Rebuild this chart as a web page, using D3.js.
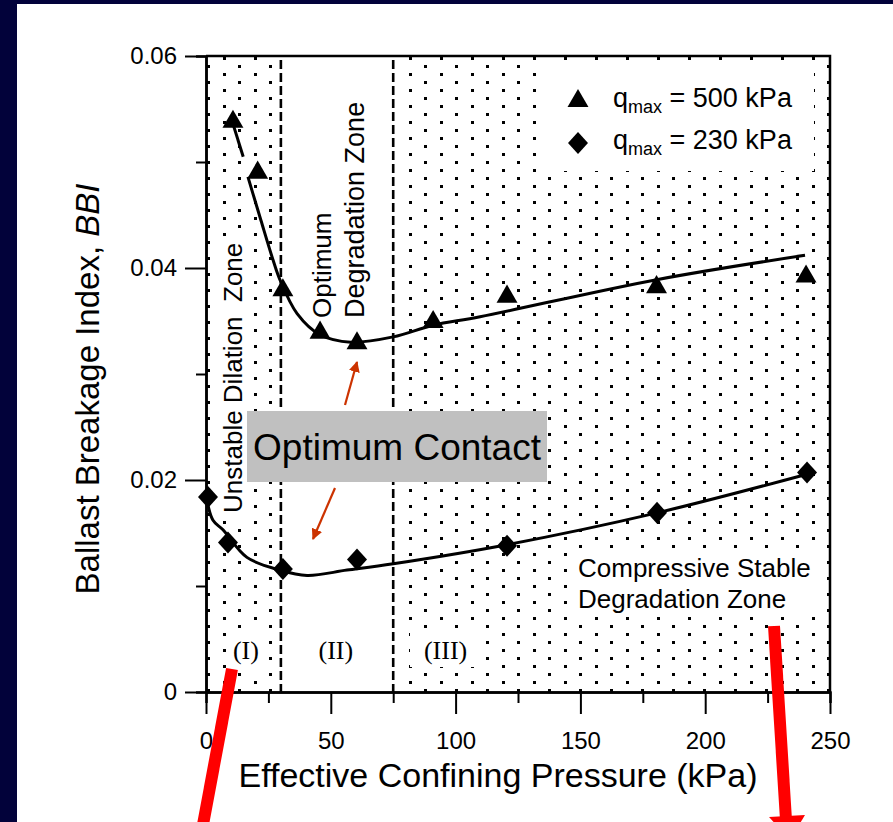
<!DOCTYPE html>
<html>
<head>
<meta charset="utf-8">
<title>Ballast Breakage Index</title>
<script src="https://d3js.org/d3.v7.min.js"></script>
<style>
  body { margin: 0; background: #02023a; }
  text { font-family: "Liberation Sans", Arial, sans-serif; }
</style>
</head>
<body>
<script>
  // measured points, q_max = 500 kPa (triangles)
  var pts500 = [[10.8,0.0538],[20.7,0.0490],[30.8,0.0379],[45.7,0.0339],[60.5,0.0329],
                [91,0.0349],[120.6,0.0373],[180.5,0.0382],[240.4,0.0392]];
  // measured points, q_max = 230 kPa (diamonds)
  var pts230 = [[0.8,0.0184],[8.8,0.0141],[30.8,0.0116],[60.5,0.0125],
                [120.6,0.0138],[180.7,0.0169],[240.8,0.0207]];
  // hand-drawn trend lines
  var fit500a = [[10.8,0.0536],[14.9,0.0505]];
  var fit500b = [[16.8,0.0486],[22,0.0445],[26.8,0.0408],[29.6,0.0389],[36.5,0.0357],
                 [45.7,0.0337],[58,0.0330],[75,0.0335],[91,0.0346],[109.8,0.0354],
                 [180.5,0.0389],[240,0.0412]];
  var fit230 = [[0.3,0.0182],[2.8,0.0162],[6.8,0.0153],[16.4,0.0127],[29.6,0.0115],
                [40.5,0.0110],[56.5,0.0115],[75,0.0121],[120.6,0.0139],[180.7,0.0169],[240,0.0205]];
  var yMajor = [0, 0.02, 0.04, 0.06];
  var yMinor = [0.01, 0.03, 0.05];
  var xMajor = [0, 50, 100, 150, 200, 250];
  var xMinor = [25, 75, 125, 175, 225];
  var zoneBounds = [30, 75];
  var zoneLabels = [["(I)", 16], ["(II)", 52], ["(III)", 96]];

  var W = 893, H = 822;
  var svg = d3.select("body").append("svg").attr("width", W).attr("height", H);

  var xScale = d3.scaleLinear().domain([0, 250]).range([206, 830]);
  var yScale = d3.scaleLinear().domain([0, 0.06]).range([692, 56]);

  // navy slide background + white panel
  svg.append("rect").attr("width", W).attr("height", H).attr("fill", "#02023a");
  svg.append("rect").attr("x", 17).attr("y", 4).attr("width", W - 17).attr("height", H - 4).attr("fill", "#fff");

  // dot hatching (staggered 3px squares, 31px apart within a row, rows 8px apart)
  var defs = svg.append("defs");
  var pat = defs.append("pattern").attr("id", "dots").attr("patternUnits", "userSpaceOnUse")
      .attr("x", 207).attr("y", 57).attr("width", 31).attr("height", 16);
  [[16, 0], [0, 8]].forEach(function (p) {
    pat.append("rect").attr("x", p[0]).attr("y", p[1]).attr("width", 3).attr("height", 3)
      .attr("fill", "#000").attr("shape-rendering", "crispEdges");
  });
  defs.append("clipPath").attr("id", "plotclip").append("rect")
      .attr("x", xScale(0)).attr("y", yScale(0.06))
      .attr("width", xScale(250) - xScale(0)).attr("height", yScale(0) - yScale(0.06));

  var plot = svg.append("g").attr("clip-path", "url(#plotclip)");
  plot.append("rect").attr("x", xScale(0)).attr("y", yScale(0.06))
      .attr("width", xScale(250) - xScale(0)).attr("height", yScale(0) - yScale(0.06))
      .attr("fill", "url(#dots)");
  // zone II is clear
  plot.append("rect").attr("x", xScale(zoneBounds[0]) + 1).attr("y", yScale(0.06))
      .attr("width", xScale(zoneBounds[1]) - xScale(zoneBounds[0]) + 6).attr("height", yScale(0) - yScale(0.06))
      .attr("fill", "#fff");
  // white boxes behind labels
  var boxes = [[540, 62, 274, 109], [570, 550, 251, 63], [218, 238, 28, 278], [228, 632, 35, 36], [410, 630, 66, 37]];
  plot.selectAll("rect.bg").data(boxes).enter().append("rect").attr("class", "bg")
      .attr("x", d => d[0]).attr("y", d => d[1]).attr("width", d => d[2]).attr("height", d => d[3])
      .attr("fill", "#fff");

  // zone dividers
  svg.selectAll("line.zone").data(zoneBounds).enter().append("line").attr("class", "zone")
      .attr("x1", d => xScale(d)).attr("x2", d => xScale(d))
      .attr("y1", yScale(0.06) + 4).attr("y2", yScale(0))
      .attr("stroke", "#000").attr("stroke-width", 2.6).attr("stroke-dasharray", "9,4");

  // frame
  svg.append("path")
      .attr("d", "M" + xScale(0) + "," + yScale(0.06) + "H" + xScale(250) + "V" + yScale(0))
      .attr("fill", "none").attr("stroke", "#000").attr("stroke-width", 2.5);

  // axes
  function styleAxis(g) {
    g.selectAll("path.domain").attr("stroke", "#000").attr("stroke-width", 2.5);
    g.selectAll(".tick line").attr("stroke", "#000").attr("stroke-width", 2);
    g.selectAll("text").attr("fill", "#000").style("font-size", "24px")
      .style("font-family", "'Liberation Sans', Arial, sans-serif");
  }
  var yAx = svg.append("g").attr("transform", "translate(" + xScale(0) + ",0)")
      .call(d3.axisLeft(yScale).tickValues(yMajor).tickSize(21).tickSizeOuter(0).tickPadding(8)
            .tickFormat(d => d === 0 ? "0" : d3.format(".2f")(d)));
  styleAxis(yAx);
  var yAxMin = svg.append("g").attr("transform", "translate(" + xScale(0) + ",0)")
      .call(d3.axisLeft(yScale).tickValues(yMinor).tickSize(10).tickFormat(""));
  styleAxis(yAxMin);
  var xAx = svg.append("g").attr("transform", "translate(0," + yScale(0) + ")")
      .call(d3.axisBottom(xScale).tickValues(xMajor).tickSize(22).tickSizeOuter(0).tickPadding(18));
  styleAxis(xAx);
  var xAxMin = svg.append("g").attr("transform", "translate(0," + yScale(0) + ")")
      .call(d3.axisBottom(xScale).tickValues(xMinor).tickSize(11).tickFormat(""));
  styleAxis(xAxMin);

  // axis titles
  svg.append("text").attr("x", 498).attr("y", 787).attr("text-anchor", "middle")
      .style("font-size", "34px").text("Effective Confining Pressure (kPa)");
  var yt = svg.append("text").attr("transform", "translate(99,389) rotate(-90)")
      .attr("text-anchor", "middle").style("font-size", "33px");
  yt.append("tspan").text("Ballast Breakage Index, ");
  yt.append("tspan").style("font-style", "italic").text("BBI");

  // trend lines
  var line = d3.line().x(d => xScale(d[0])).y(d => yScale(d[1])).curve(d3.curveCatmullRom);
  [fit500a, fit500b, fit230].forEach(function (f) {
    svg.append("path").datum(f).attr("d", line)
      .attr("fill", "none").attr("stroke", "#000").attr("stroke-width", 3);
  });

  // markers
  var tri = d3.symbol().type(d3.symbolTriangle).size(190);
  var dia = "M0,-11L10,0L0,11L-10,0Z";
  svg.selectAll("path.tri").data(pts500).enter().append("path").attr("class", "tri")
      .attr("d", tri).attr("fill", "#000")
      .attr("transform", d => "translate(" + xScale(d[0]) + "," + yScale(d[1]) + ")");
  svg.selectAll("path.dia").data(pts230).enter().append("path").attr("class", "dia")
      .attr("d", dia).attr("fill", "#000")
      .attr("transform", d => "translate(" + xScale(d[0]) + "," + yScale(d[1]) + ")");

  // legend
  svg.append("path").attr("d", tri).attr("fill", "#000").attr("transform", "translate(578,101)");
  svg.append("path").attr("d", dia).attr("fill", "#000").attr("transform", "translate(578,143)");
  ["500", "230"].forEach(function (q, i) {
    var t = svg.append("text").attr("x", 613).attr("y", 107 + i * 42).style("font-size", "27px");
    t.append("tspan").text("q");
    t.append("tspan").attr("dy", 6).style("font-size", "18px").text("max");
    t.append("tspan").attr("dy", -6).text(" = " + q + " kPa");
  });

  // zone annotations
  svg.append("text").attr("transform", "translate(242,513) rotate(-90)")
      .style("font-size", "26px").style("white-space", "pre").text("Unstable Dilation  Zone");
  svg.append("text").attr("transform", "translate(331,318) rotate(-90)")
      .style("font-size", "26px").text("Optimum");
  svg.append("text").attr("transform", "translate(364,318) rotate(-90)")
      .style("font-size", "27px").text("Degradation Zone");
  svg.append("text").attr("x", 578).attr("y", 577).style("font-size", "26px").text("Compressive Stable");
  svg.append("text").attr("x", 578).attr("y", 608).style("font-size", "26px").text("Degradation Zone");
  svg.selectAll("text.roman").data(zoneLabels).enter().append("text").attr("class", "roman")
      .attr("x", d => xScale(d[1])).attr("y", 659).attr("text-anchor", "middle")
      .style("font-family", "'Liberation Serif', 'Times New Roman', serif").style("font-size", "26px")
      .text(d => d[0]);

  // optimum contact callout
  svg.append("rect").attr("x", 247).attr("y", 411).attr("width", 300).attr("height", 71).attr("fill", "#c0c0c0");
  svg.append("text").attr("x", 397).attr("y", 460).attr("text-anchor", "middle")
      .style("font-size", "37px").text("Optimum Contact");
  defs.append("marker").attr("id", "oh").attr("viewBox", "0 0 10 10").attr("refX", 9).attr("refY", 5)
      .attr("markerWidth", 5).attr("markerHeight", 5).attr("orient", "auto")
      .append("path").attr("d", "M0,0L10,5L0,10Z").attr("fill", "#cc3300");
  [[345, 405, 357, 362], [335, 488, 313, 539]].forEach(function (a) {
    svg.append("line").attr("x1", a[0]).attr("y1", a[1]).attr("x2", a[2]).attr("y2", a[3])
      .attr("stroke", "#cc3300").attr("stroke-width", 2.2).attr("marker-end", "url(#oh)");
  });

  // red pointer strokes
  svg.append("line").attr("x1", 232).attr("y1", 669).attr("x2", 202).attr("y2", 830)
      .attr("stroke", "#ff0000").attr("stroke-width", 12);
  svg.append("line").attr("x1", 774).attr("y1", 626).attr("x2", 786).attr("y2", 820)
      .attr("stroke", "#ff0000").attr("stroke-width", 12);
  svg.append("path").attr("d", "M769,817L805,815L790,840Z").attr("fill", "#ff0000");
</script>
</body>
</html>
